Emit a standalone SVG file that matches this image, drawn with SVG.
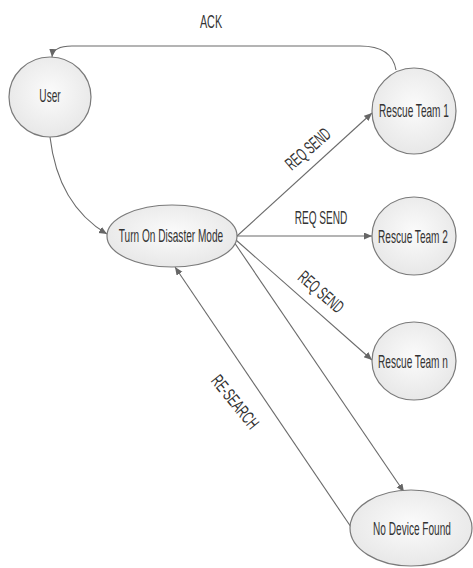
<svg xmlns="http://www.w3.org/2000/svg" width="473" height="568" viewBox="0 0 473 568">
<style>
.node{fill:url(#g);stroke:#7a7a7a;stroke-width:1.2}
.lbl{font-family:"Liberation Sans",Arial,sans-serif;font-size:18px;fill:#333;text-anchor:middle}
.edge{fill:none;stroke:#6a6a6a;stroke-width:1.1;marker-end:url(#arr)}
</style>
<defs>
<radialGradient id="g" cx="50%" cy="45%" r="60%">
<stop offset="0" stop-color="#fbfbfb"/>
<stop offset="1" stop-color="#e6e6e6"/>
</radialGradient>
<marker id="arr" markerWidth="9" markerHeight="8" refX="8" refY="3.5" orient="auto" markerUnits="userSpaceOnUse">
<path d="M0,0 L8,3.5 L0,7 z" fill="#666"/>
</marker>
</defs>
<rect width="473" height="568" fill="#fff"/>
<g id="connectors">
<path class="edge" d="M396,70 Q392,46 360,46 L72,46 Q53,46 52,57"/>
<path class="edge" d="M50,137 Q58,205 107,234"/>
<path class="edge" d="M237,236 L372,113"/>
<path class="edge" d="M237,236 L372,236"/>
<path class="edge" d="M236,240 L372,360"/>
<path class="edge" d="M234,242 L404,492"/>
<path class="edge" d="M351,527 L175,267"/>
<text class="lbl" transform="translate(211,22) scale(0.6,1)" y="6">ACK</text>
<text class="lbl" transform="translate(321,218) scale(0.56,1)" y="6">REQ SEND</text>
<text class="lbl" transform="translate(308,149) rotate(-41) scale(0.57,1)" y="6">REQ SEND</text>
<text class="lbl" transform="translate(321,292) rotate(41) scale(0.57,1)" y="6">REQ SEND</text>
<text class="lbl" transform="translate(235,402) rotate(51) scale(0.6,1)" y="6">RE-SEARCH</text>
</g>
<g id="user">
<ellipse class="node" cx="50" cy="97" rx="41" ry="40"/>
<text class="lbl" transform="translate(50,96) scale(0.56,1)" y="6">User</text>
</g>
<g id="disaster">
<ellipse class="node" cx="172" cy="236" rx="65" ry="31"/>
<text class="lbl" transform="translate(171,236) scale(0.56,1)" y="6">Turn On Disaster Mode</text>
</g>
<g id="team1">
<ellipse class="node" cx="414" cy="111" rx="42" ry="43"/>
<text class="lbl" transform="translate(414,111) scale(0.56,1)" y="6">Rescue Team 1</text>
</g>
<g id="team2">
<ellipse class="node" cx="414" cy="236" rx="42" ry="39"/>
<text class="lbl" transform="translate(413,237) scale(0.56,1)" y="6">Rescue Team 2</text>
</g>
<g id="teamn">
<ellipse class="node" cx="414" cy="361" rx="42" ry="39"/>
<text class="lbl" transform="translate(413,362) scale(0.56,1)" y="6">Rescue Team n</text>
</g>
<g id="nodevice">
<ellipse class="node" cx="411" cy="528" rx="61" ry="38"/>
<text class="lbl" transform="translate(412,529) scale(0.56,1)" y="6">No Device Found</text>
</g>
</svg>
